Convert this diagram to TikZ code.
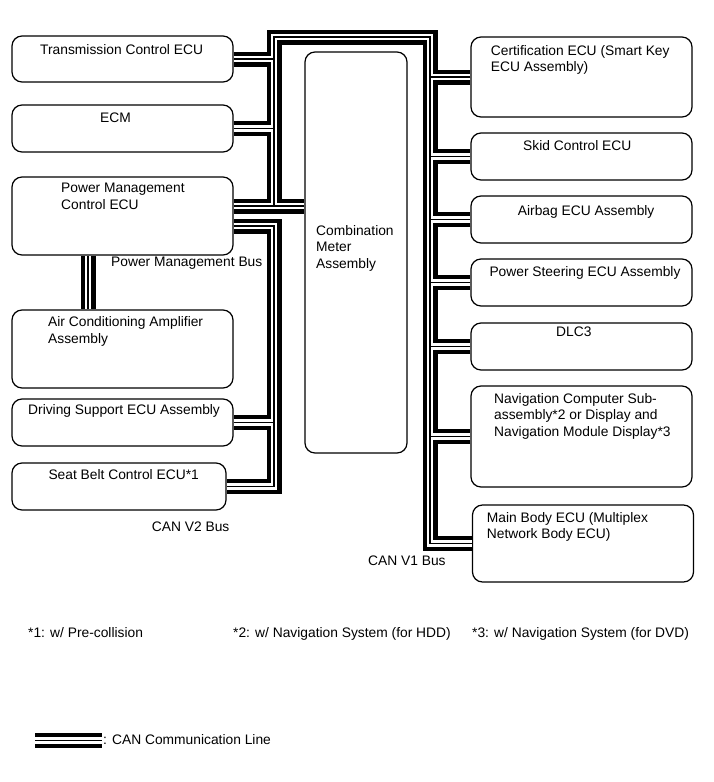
\documentclass[tikz,border=0pt]{standalone}
\usepackage{fontspec}
\setmainfont{Liberation Sans}
\usetikzlibrary{calc}
\usetikzlibrary{positioning}

\begin{document}
\begin{tikzpicture}[x=1pt, y=-1pt,
        font=\fontsize{13.8}{16.5}\selectfont,
        ecu/.style={draw, line width=1.2pt, rounded corners=10pt, fill=white,
                    minimum width=221pt, inner sep=0pt},
        lbl/.style={anchor=base west, inner sep=0pt, align=left},
        canline/.style={draw=white, line width=6.6pt,
                        preaction={draw=black, line width=15pt},
                        postaction={draw=black, line width=1.6pt}}]
            \useasboundingbox (0,0) rectangle (713,782);
            % Left side ECUs
            \node[ecu, minimum height=46pt]                  (tcu)    at (122.5, 59.0) {};
            \node[ecu, minimum height=47pt]                  (ecm)    at (122.5,128.5) {};
            \node[ecu, minimum height=78pt]                  (pm)     at (122.5,216.0) {};
            \node[ecu, minimum height=78pt]                  (ac)     at (122.5,349.0) {};
            \node[ecu, minimum height=47pt]                  (dss)    at (122.5,422.5) {};
            \node[ecu, minimum height=47pt, minimum width=214pt] (sbc) at (119.0,486.5) {};
            % Combination meter
            \node[ecu, minimum height=401pt, minimum width=102pt] (cmb) at (356.0,252.5) {};
            % Right side ECUs
            \node[ecu, minimum height=80pt]                  (cert)   at (581.5, 77.0) {};
            \node[ecu, minimum height=47pt]                  (skid)   at (581.5,156.5) {};
            \node[ecu, minimum height=47pt]                  (airbag) at (581.5,219.5) {};
            \node[ecu, minimum height=47pt]                  (pseps)  at (581.5,282.5) {};
            \node[ecu, minimum height=47pt]                  (dlc)    at (581.5,346.5) {};
            \node[ecu, minimum height=101pt]                 (nav)    at (581.5,436.5) {};
            \node[ecu, minimum height=77pt]                  (mbe)    at (583.0,543.5) {};
            % Bus corners
            \coordinate (v1l)  at (274,37);
            \coordinate (v1r)  at (430,37);
            \coordinate (pmhi) at ([yshift=10pt]pm.east);
            \coordinate (pmlo) at ([yshift=-10pt]pm.east);
            % CAN V1 Bus
            \draw[canline] (tcu.east) -| (v1l) -- (v1r) |- (mbe.west)
                           (ecm.east) -- (ecm.east -| v1l)
                           (tcu.east -| v1l) -- (pmhi -| v1l)
                           (pmhi) -- (pmhi -| cmb.west)
                           foreach \n in {cert, skid, airbag, pseps, dlc, nav} {(\n.west) -- (\n.west -| v1r)};
            % CAN V2 Bus
            \draw[canline] (pmlo) -| (sbc.east -| v1l) -- (sbc.east)
                           (dss.east) -- (dss.east -| v1l);
            % Power Management Bus
            \draw[canline] ([xshift=-34.5pt]pm.south) -- ([xshift=-34.5pt]ac.north);
            % Box texts (multi-line ones sit on their last line)
            \node[lbl] (tcu-t)    at ( 40.0, 54.0) {Transmission Control ECU};
            \node[lbl] (ecm-t)    at (100.0,122.0) {ECM};
            \node[lbl] (pm-t)     at ( 61.0,209.2) {Power Management\\Control ECU};
            \node[lbl] (ac-t)     at ( 48.0,343.2) {Air Conditioning Amplifier\\Assembly};
            \node[lbl] (dss-t)    at ( 28.0,414.0) {Driving Support ECU Assembly};
            \node[lbl] (sbc-t)    at ( 48.3,479.3) {Seat Belt Control ECU*1};
            \node[lbl] (cmb-t)    at (316.0,268.0) {Combination\\Meter\\Assembly};
            \node[lbl] (cert-t)   at (490.7, 71.5) {Certification ECU (Smart Key\\ECU Assembly)};
            \node[lbl] (skid-t)   at (523.0,150.0) {Skid Control ECU};
            \node[lbl] (airbag-t) at (517.7,215.0) {Airbag ECU Assembly};
            \node[lbl] (pseps-t)  at (489.3,276.7) {Power Steering ECU Assembly};
            \node[lbl] (dlc-t)    at (556.0,336.7) {DLC3};
            \node[lbl] (nav-t)    at (494.0,436.3) {Navigation Computer Sub-\\assembly*2 or Display and\\Navigation Module Display*3};
            \node[lbl] (mbe-t)    at (486.7,538.8) {Main Body ECU (Multiplex\\Network Body ECU)};
            % Bus names
            \node[lbl] (pmbus) at (111.0,266.7) {Power Management Bus};
            \node[lbl] (v2bus) at (151.7,531.7) {CAN V2 Bus};
            \node[lbl] (v1bus) at (368.0,565.0) {CAN V1 Bus};
            % Notes
            \node[lbl] (note1) at ( 28.0,637.0) {*1: w/ Pre-collision};
            \node[lbl] (note2) at (233.0,637.0) {*2: w/ Navigation System (for HDD)};
            \node[lbl] (note3) at (472.0,637.0) {*3: w/ Navigation System (for DVD)};
            % Legend
            \coordinate (lega) at ( 35,740.5);
            \coordinate (legb) at (102,740.5);
            \draw[canline] (lega) -- (legb);
            \node[lbl] (leg-t) at (103.0,744.0) {: CAN Communication Line};
        \end{tikzpicture}
\end{document}
